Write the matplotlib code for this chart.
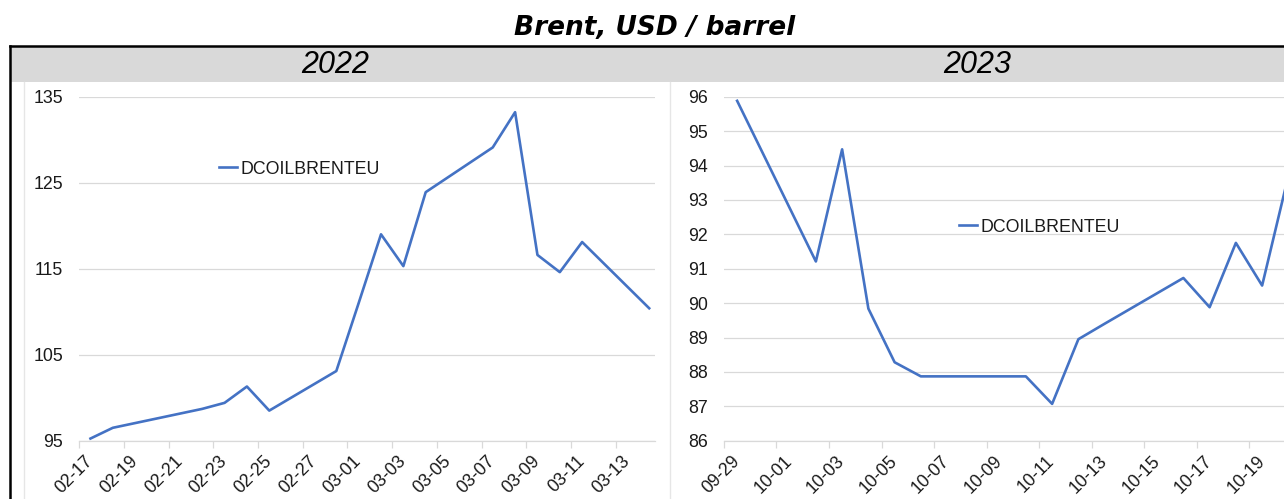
import matplotlib.pyplot as plt
import pandas as pd
from matplotlib.patches import Rectangle
from matplotlib.lines import Line2D

# 2022 panel
dates_2022 = ["2022-02-17", "2022-02-18", "2022-02-22", "2022-02-23", "2022-02-24",
              "2022-02-25", "2022-02-28", "2022-03-01", "2022-03-02", "2022-03-03",
              "2022-03-04", "2022-03-07", "2022-03-08", "2022-03-09", "2022-03-10",
              "2022-03-11", "2022-03-14"]
brent_2022 = [95.25, 96.5, 98.7, 99.4, 101.3, 98.5, 103.1, 111.0, 119.0, 115.3,
              123.9, 129.1, 133.2, 116.6, 114.6, 118.1, 110.4]
yticks_2022 = [95, 105, 115, 125, 135]
xlabels_2022 = ["02-17", "02-19", "02-21", "02-23", "02-25", "02-27", "03-01",
                "03-03", "03-05", "03-07", "03-09", "03-11", "03-13"]

# 2023 panel
dates_2023 = ["2023-09-29", "2023-10-02", "2023-10-03", "2023-10-04", "2023-10-05",
              "2023-10-06", "2023-10-09", "2023-10-10", "2023-10-11", "2023-10-12",
              "2023-10-13", "2023-10-16", "2023-10-17", "2023-10-18", "2023-10-19",
              "2023-10-20"]
brent_2023 = [95.88, 91.21, 94.47, 89.84, 88.28, 87.87, 87.87, 87.87, 87.07, 88.95,
              89.4, 90.73, 89.88, 91.75, 90.51, 93.7]
yticks_2023 = [86, 87, 88, 89, 90, 91, 92, 93, 94, 95, 96]
xlabels_2023 = ["09-29", "10-01", "10-03", "10-05", "10-07", "10-09", "10-11",
                "10-13", "10-15", "10-17", "10-19"]

W, H = 1284, 499
LINE = "#4472C4"
GRID = "#D9D9D9"
TXT = "#1a1a1a"
FONT = "Liberation Sans"

fig = plt.figure(figsize=(W / 100, H / 100), dpi=100)


def fx(px):
    return px / W


def fy(py):
    return 1 - py / H


# header band and frame
fig.add_artist(Rectangle((fx(10), fy(82)), 1 - fx(10), fy(47) - fy(82),
                         transform=fig.transFigure, color=GRID, lw=0, zorder=0))
fig.add_artist(Line2D([fx(24), fx(24)], [fy(82), 0], transform=fig.transFigure,
                      color="#E6E6E6", lw=1))
fig.add_artist(Line2D([fx(670), fx(670)], [fy(82), 0], transform=fig.transFigure,
                      color="#E6E6E6", lw=1))
fig.add_artist(Line2D([fx(10), fx(10)], [fy(46), 0], transform=fig.transFigure,
                      color="black", lw=1.8))
fig.add_artist(Line2D([fx(10), 1], [fy(46), fy(46)], transform=fig.transFigure,
                      color="black", lw=1.8))

fig.text(fx(655), fy(28), "Brent, USD / barrel", ha="center", va="center",
         fontsize=19, fontweight="bold", fontstyle="italic", family="DejaVu Sans")
fig.text(fx(335), fy(65), "2022", ha="center", va="center", fontsize=22,
         fontstyle="italic", family=FONT)
fig.text(fx(977), fy(65), "2023", ha="center", va="center", fontsize=22,
         fontstyle="italic", family=FONT)


def panel(left_px, right_px, dates, values, xmax, yticks, xlabels, leg_px):
    top, bottom = 96.7, 440.7
    ax = fig.add_axes([fx(left_px), fy(bottom), fx(right_px - left_px), (bottom - top) / H])
    start = pd.Timestamp(dates[0])
    x = (pd.to_datetime(dates) - start).days + 0.5
    ax.plot(x, values, color=LINE, lw=1.9, label="DCOILBRENTEU", clip_on=False)
    ax.set_xlim(0, xmax)
    ax.set_ylim(yticks[0], yticks[-1])
    ax.set_yticks(yticks)
    ax.set_yticklabels([str(v) for v in yticks], family=FONT, fontsize=12.8, color=TXT)
    ax.tick_params(axis="y", length=0, pad=11.5)
    ax.grid(axis="y", color=GRID, lw=0.9)
    ax.set_axisbelow(True)
    major = [2 * i for i in range(len(xlabels))]
    ax.set_xticks(major)
    ax.set_xticklabels([])
    ax.set_xticks([m + 0.5 for m in major], minor=True)
    ax.set_xticklabels(xlabels, minor=True, rotation=45, ha="right", va="center",
                       rotation_mode="anchor", family=FONT, fontsize=12.8, color=TXT)
    ax.tick_params(axis="x", which="major", length=5, color=GRID, width=0.9)
    ax.tick_params(axis="x", which="minor", length=0, pad=13)
    for s in ["left", "right", "top"]:
        ax.spines[s].set_visible(False)
    ax.spines["bottom"].set_color(GRID)
    ax.spines["bottom"].set_linewidth(0.9)
    ax.patch.set_alpha(0)
    ax.legend(loc="center left", bbox_to_anchor=(fx(leg_px[0]), fy(leg_px[1])),
              bbox_transform=fig.transFigure, frameon=False, handlelength=1.0,
              handletextpad=0.2, borderpad=0, borderaxespad=0,
              prop={"family": FONT, "size": 12.8}, labelcolor=TXT)
    return ax


panel(79.3, 655, dates_2022, brent_2022, 25.76, yticks_2022, xlabels_2022, (219, 169))
ax2 = panel(724, 724 + 22 * 26.25, dates_2023, brent_2023, 22, yticks_2023,
            xlabels_2023, (959, 227))

fig.savefig("out.png", dpi=100)
